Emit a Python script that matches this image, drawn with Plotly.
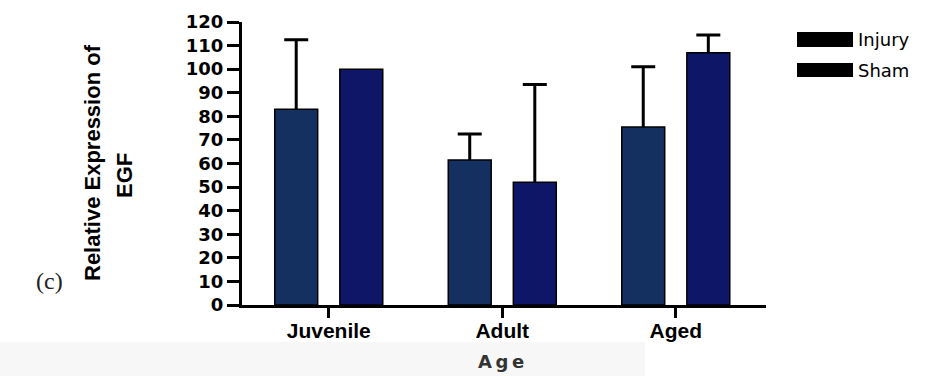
import plotly.graph_objects as go

# Relative EGF expression by age group
ages = ["Juvenile", "Adult", "Aged"]
injury_vals = [83, 61.5, 75.5]
injury_err = [29.5, 11, 25.5]
sham_vals = [100, 52, 107]
sham_err = [0, 41.5, 7.5]
y_ticks = list(range(0, 121, 10))

W, H = 935, 376
L, R, T, B = 242, 169, 22, 71
PW, PH = W - L - R, H - T - B


def px(x):
    return (x - L) / PW


def py(y):
    return (H - B - y) / PH


groups = [
    ("Injury", injury_vals, injury_err, "#143060"),
    ("Sham", sham_vals, sham_err, "#0e1668"),
]

fig = go.Figure()

# Error whiskers first: a transparent bar per group carries an error bar that
# runs from the top of the whisker down to zero, so the solid bars drawn
# afterwards hide the part of the stem inside the bar.
for name, vals, err, color in groups:
    fig.add_trace(go.Bar(
        x=ages,
        y=[v if e > 0 else None for v, e in zip(vals, err)],
        offsetgroup=name,
        marker=dict(color="rgba(0,0,0,0)", line=dict(width=0)),
        error_y=dict(type="data", array=err, arrayminus=vals,
                     symmetric=False, color="black", thickness=3, width=12,
                     visible=True),
        showlegend=False, hoverinfo="skip",
    ))

for name, vals, err, color in groups:
    fig.add_trace(go.Bar(
        x=ages, y=vals, name=name, offsetgroup=name,
        marker=dict(color=color, line=dict(color="black", width=1.5)),
        showlegend=False,
    ))

shapes = []
annotations = []

# legend: black swatches with labels
for label, y0, y1 in [("Injury", 32, 47), ("Sham", 63, 77)]:
    shapes.append(dict(type="rect", xref="paper", yref="paper",
                       x0=px(797), x1=px(853), y0=py(y1), y1=py(y0),
                       fillcolor="black", line=dict(width=0)))
    annotations.append(dict(text=label, xref="paper", yref="paper",
                            x=px(856), y=py((y0 + y1) / 2), xanchor="left",
                            yanchor="middle", showarrow=False,
                            font=dict(family="DejaVu Sans", size=18, color="black")))

# faint band behind the axis title
shapes.append(dict(type="rect", xref="paper", yref="paper", layer="below",
                   x0=px(0), x1=px(645), y0=py(376), y1=py(342),
                   fillcolor="#f7f7f7", line=dict(width=0)))

annotations += [
    dict(text="Relative Expression of", xref="paper", yref="paper",
         x=px(92), y=py(163), textangle=-90, showarrow=False,
         xanchor="center", yanchor="middle",
         font=dict(family="Liberation Sans", size=22, weight="bold", color="black")),
    dict(text="EGF", xref="paper", yref="paper",
         x=px(124), y=py(176), textangle=-90, showarrow=False,
         xanchor="center", yanchor="middle",
         font=dict(family="Liberation Sans", size=22, weight="bold", color="black")),
    dict(text="(c)", xref="paper", yref="paper",
         x=px(49), y=py(281), showarrow=False,
         xanchor="center", yanchor="middle",
         font=dict(family="Liberation Serif", size=24, color="#222")),
    dict(text="A\u2009g\u2009e", xref="paper", yref="paper",
         x=px(501), y=py(361), showarrow=False,
         xanchor="center", yanchor="middle",
         font=dict(family="DejaVu Sans", size=18, weight="bold", color="#333")),
]

fig.update_layout(
    width=W, height=H,
    margin=dict(l=L, r=R, t=T, b=B, pad=0),
    paper_bgcolor="white", plot_bgcolor="white",
    barmode="group", bargap=0.25, bargroupgap=0.34,
    shapes=shapes, annotations=annotations,
    xaxis=dict(type="category", range=[-0.5, 2.52], showline=True,
               linecolor="black", linewidth=3, ticks="outside", ticklen=10,
               tickwidth=3, tickcolor="black", showgrid=False, zeroline=False,
               ticklabelstandoff=-5,
               tickfont=dict(family="Liberation Sans", size=21, weight="bold",
                             color="black")),
    yaxis=dict(range=[0, 120], tickvals=y_ticks, showline=True,
               linecolor="black", linewidth=3, ticks="outside", ticklen=12,
               tickwidth=3, tickcolor="black", showgrid=False, zeroline=False,
               tickfont=dict(family="DejaVu Sans", size=18, weight="bold",
                             color="black")),
)

fig.write_html("out.html")
